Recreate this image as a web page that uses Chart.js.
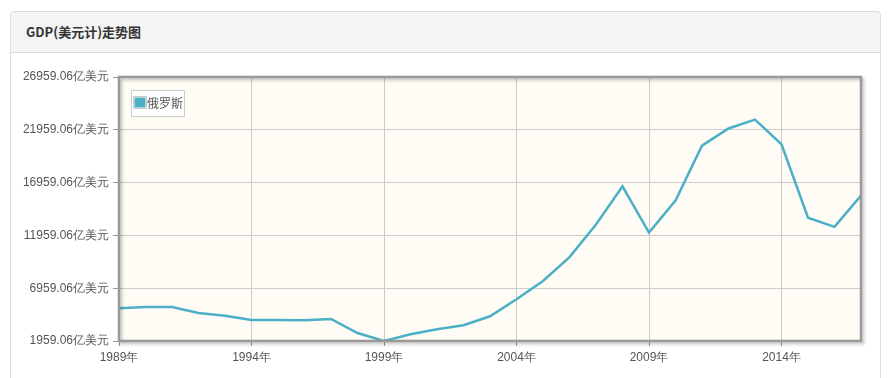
<!DOCTYPE html>
<html><head><meta charset="utf-8">
<script src="https://cdn.jsdelivr.net/npm/chart.js@4/dist/chart.umd.min.js"></script>
<style>
html,body{margin:0;padding:0;background:#fff;width:889px;height:378px;overflow:hidden;}
#card{position:absolute;left:10px;top:11px;width:869px;height:400px;border:1px solid #dcdcdc;border-radius:4px;background:#fff;}
#hdr{height:40px;background:#f4f4f4;border-bottom:1px solid #dcdcdc;border-radius:4px 4px 0 0;font:bold 13px "Noto Sans CJK SC",sans-serif;color:#333;line-height:40px;padding-left:15px;}
#wrap{position:absolute;left:0;top:0;width:889px;height:378px;}
</style></head>
<body>
<div id="card"><div id="hdr">GDP(美元计)走势图</div></div>
<div id="wrap"><canvas id="c" width="889" height="378"></canvas></div>
<script>
const years = [1989,1990,1991,1992,1993,1994,1995,1996,1997,1998,1999,2000,2001,2002,2003,2004,2005,2006,2007,2008,2009,2010,2011,2012,2013,2014,2015,2016,2017];
const gdpRussia = [5065.0,5168.1,5178.9,4602.9,4350.8,3950.8,3955.3,3917.2,4048.7,2710.2,1959.06,2597.1,3066.0,3451.0,4303.5,5910.2,7640.2,9899.3,12997.1,16608.5,12226.9,15249.2,20459.3,22083.0,22925.1,20592.4,13635.0,12767.9,15742.0];
const xTickYears = [1989,1994,1999,2004,2009,2014];
const yTickValues = [1959.06,6959.06,11959.06,16959.06,21959.06,26959.06];
const seriesName = '俄罗斯';
const unit = '亿美元';

const frame = {
  id:'frame',
  beforeDraw(chart){
    const {ctx, chartArea:a} = chart;
    ctx.save();
    ctx.fillStyle = '#fefcf5';
    ctx.fillRect(a.left, a.top, a.right-a.left, a.bottom-a.top);
    ctx.restore();
  },
  afterDatasetsDraw(chart){
    const {ctx, chartArea:a} = chart;
    ctx.save();
    ctx.shadowColor = 'rgba(0,0,0,0.25)';
    ctx.shadowBlur = 3; ctx.shadowOffsetX = 2; ctx.shadowOffsetY = 2;
    ctx.strokeStyle = '#999'; ctx.lineWidth = 2.5;
    ctx.strokeRect(a.left, a.top, a.right-a.left, a.bottom-a.top);
    ctx.restore();
    // legend
    ctx.save();
    const ds = chart.data.datasets[0];
    ctx.fillStyle = '#fff';
    ctx.strokeStyle = '#ccc'; ctx.lineWidth = 1;
    ctx.fillRect(131.5, 90.5, 53, 26);
    ctx.strokeRect(131.5, 90.5, 53, 26);
    ctx.strokeStyle = '#ccc';
    ctx.strokeRect(133.5, 96.5, 13, 12);
    ctx.fillStyle = ds.borderColor;
    ctx.fillRect(134.5, 97.5, 11, 10);
    ctx.fillStyle = '#555';
    ctx.font = '12px "Noto Sans CJK SC", sans-serif';
    ctx.textBaseline = 'middle';
    ctx.fillText(ds.label, 147, 103.5);
    ctx.restore();
  }
};

new Chart(document.getElementById('c'), {
  type:'line',
  data:{datasets:[{label:seriesName, data:years.map((y,i)=>({x:y,y:gdpRussia[i]})), borderColor:'#4bb0c6', borderWidth:2.5, pointRadius:0, tension:0, fill:false}]},
  options:{
    responsive:false, animation:false,
    layout:{padding:{top:77,right:28,left:0,bottom:0}},
    plugins:{legend:{display:false}, tooltip:{enabled:false}},
    scales:{
      x:{type:'linear', min:1989, max:2017,
        afterBuildTicks(s){ s.ticks = xTickYears.map(v=>({value:v})); },
        afterFit(s){ s.height = 37; },
        border:{display:false},
        grid:{color:'#cccccc', lineWidth:1, tickLength:5, tickColor:'#999', drawTicks:true},
        ticks:{autoSkip:false, maxRotation:0, padding:4, color:'#555', font:{family:'"Liberation Sans", Arial, sans-serif', size:12}, callback:v=>v+'年'}
      },
      y:{type:'linear', min:1959.06, max:26959.06,
        afterBuildTicks(s){ s.ticks = yTickValues.map(v=>({value:v})); },
        afterFit(s){ s.width = 119; },
        border:{display:false},
        grid:{color:'#cccccc', lineWidth:1, tickLength:6, tickColor:'#999', drawTicks:true},
        ticks:{autoSkip:false, padding:4, color:'#555', font:{family:'"Liberation Sans", Arial, sans-serif', size:12}, callback:v=>v.toFixed(2)+unit}
      }
    }
  },
  plugins:[frame]
});
</script>
</body></html>
